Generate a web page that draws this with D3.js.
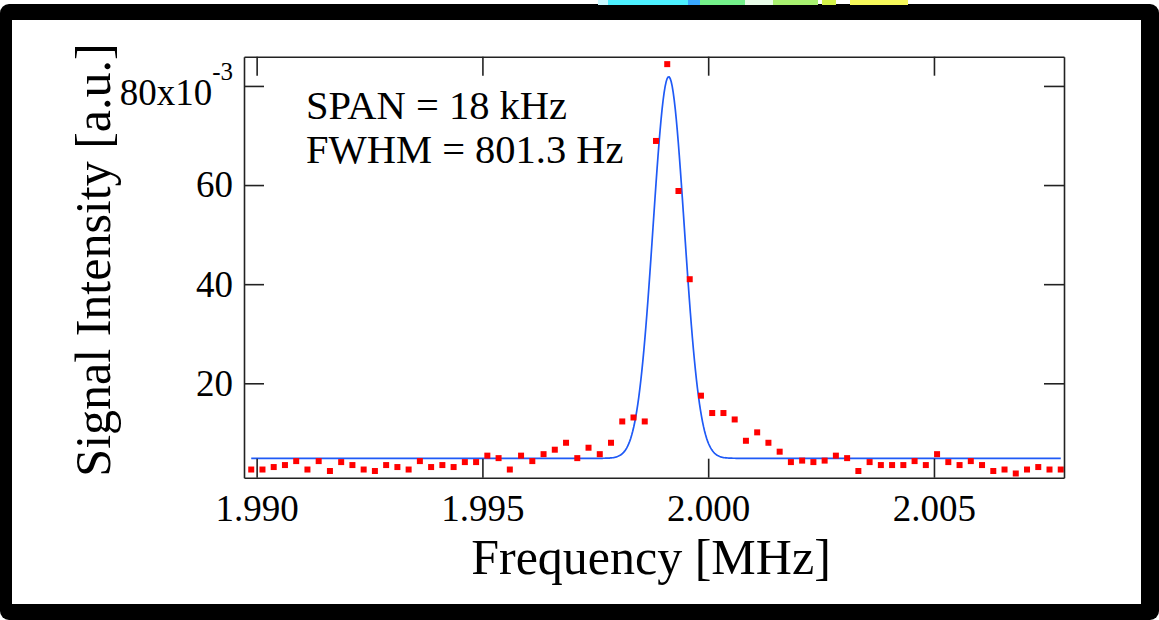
<!DOCTYPE html>
<html>
<head>
<meta charset="utf-8">
<script src="https://cdn.jsdelivr.net/npm/d3@7/dist/d3.min.js"></script>
<style>
  html, body { margin: 0; padding: 0; background: #fff; }
  svg { display: block; }
</style>
</head>
<body>
<svg id="chart"></svg>
<script>
// Data (signal intensity in units of 1e-3 a.u.)
const FREQ_START = 1.98988;   // MHz, first sweep point
const FREQ_STEP = 0.000249;   // MHz between sweep points
const intensity = [
    2.6, 2.6, 3.1, 3.5, 4.3, 2.6, 4.3, 2.3, 4.1, 3.5,
    2.6, 2.3, 3.5, 3.1, 2.6, 4.3, 3.1, 3.5, 3.1, 4.1,
    4.1, 5.4, 4.9, 2.6, 5.4, 4.3, 5.7, 6.6, 8.0, 4.9,
    7.0, 5.7, 8.0, 12.3, 13.1, 12.3, 68.9, 84.4, 58.8, 41.0,
    17.5, 14.0, 14.0, 12.7, 8.4, 10.1, 8.0, 6.2, 4.1, 4.4,
    4.1, 4.4, 5.4, 4.9, 2.3, 4.1, 3.5, 3.5, 3.5, 4.3,
    3.5, 5.7, 4.1, 3.5, 4.3, 3.5, 2.3, 2.6, 1.8, 2.6,
    3.1, 2.6, 2.6
];

// Gaussian fit parameters
const FIT_CENTER = 1.999125;  // MHz
const FIT_FWHM = 0.000815;    // MHz
const FIT_AMPLITUDE = 77.0;
const FIT_BASELINE = 4.86;

const xTicks = [1.990, 1.995, 2.000, 2.005];
const yTicks = [20, 40, 60, 80];
const annotations = ["SPAN = 18 kHz", "FWHM = 801.3 Hz"];

// Layout
const WIDTH = 1159;
const HEIGHT = 620;
const PLOT = { left: 244, right: 1064, top: 56.7, bottom: 477.7 };
const SERIF = '"Liberation Serif", "Times New Roman", Times, serif';
const AXIS_COLOR = '#222';
const POINT_COLOR = '#ff0000';
const FIT_COLOR = '#1f5af6';
const POINT_SIZE = 6;

const svg = d3.select('#chart')
    .attr('width', WIDTH)
    .attr('height', HEIGHT);

// Window frame around the figure
svg.append('rect')
    .attr('x', 0).attr('y', 4)
    .attr('width', WIDTH).attr('height', HEIGHT - 4)
    .attr('rx', 9).attr('ry', 9)
    .style('fill', '#000');
svg.append('rect')
    .attr('x', 12).attr('y', 20)
    .attr('width', 1141 - 12).attr('height', 604 - 20)
    .style('fill', '#fff');

// bits of the desktop showing above the frame
const topBits = [
    { x: 598, w: 10, c: '#c8f8ff' }, { x: 608, w: 80, c: '#4cf0ff' },
    { x: 688, w: 12, c: '#3aa8ff' }, { x: 700, w: 45, c: '#74f08a' },
    { x: 745, w: 28, c: '#e8fce8' }, { x: 773, w: 45, c: '#a8f070' },
    { x: 822, w: 14, c: '#d4f24a' }, { x: 850, w: 58, c: '#f6f85a' }
];
svg.selectAll('.top-bit')
    .data(topBits)
    .enter()
    .append('rect')
    .attr('x', d => d.x).attr('y', 0)
    .attr('width', d => d.w).attr('height', 5)
    .style('fill', d => d.c);

// Scales
const xScale = d3.scaleLinear()
    .domain([1.98972, 2.00788])
    .range([PLOT.left, PLOT.right]);
const yScale = d3.scaleLinear()
    .domain([0.95, 85.9])
    .range([PLOT.bottom, PLOT.top]);

const points = intensity.map((v, i) => ({ f: FREQ_START + i * FREQ_STEP, v: v }));

// Fit curve sampled across the sweep
const sigma = FIT_FWHM / (2 * Math.sqrt(2 * Math.log(2)));
const fLast = points[points.length - 1].f;
const fitCurve = d3.range(0, 801).map(k => {
    const f = FREQ_START + (fLast - FREQ_START) * k / 800;
    const d = (f - FIT_CENTER) / sigma;
    return { f: f, v: FIT_BASELINE + FIT_AMPLITUDE * Math.exp(-0.5 * d * d) };
});

const plot = svg.append('g');

plot.append('path')
    .datum(fitCurve)
    .attr('d', d3.line().x(d => xScale(d.f)).y(d => yScale(d.v)))
    .style('fill', 'none')
    .style('stroke', FIT_COLOR)
    .style('stroke-width', 1.7);

plot.selectAll('.pt')
    .data(points)
    .enter()
    .append('rect')
    .classed('pt', true)
    .attr('x', d => xScale(d.f) - POINT_SIZE / 2)
    .attr('y', d => yScale(d.v) - POINT_SIZE / 2)
    .attr('width', POINT_SIZE)
    .attr('height', POINT_SIZE)
    .style('fill', POINT_COLOR);

// Axes, ticks pointing inward on all four sides
function styleAxis(g) {
    g.selectAll('path, line')
        .style('stroke', AXIS_COLOR)
        .style('stroke-width', 1.6);
    g.selectAll('text')
        .style('font-family', SERIF)
        .style('font-size', '37px')
        .style('fill', '#000');
}

const bottomAxis = svg.append('g')
    .attr('transform', `translate(0,${PLOT.bottom})`)
    .call(d3.axisBottom(xScale).tickValues(xTicks).tickSizeInner(-19).tickSizeOuter(0)
        .tickPadding(17).tickFormat(d3.format('.3f')));
styleAxis(bottomAxis);

svg.append('g')
    .attr('transform', `translate(0,${PLOT.top})`)
    .call(d3.axisTop(xScale).tickValues(xTicks).tickSizeInner(-19).tickSizeOuter(0).tickFormat(''))
    .call(styleAxis);

const leftAxis = svg.append('g')
    .attr('transform', `translate(${PLOT.left},0)`)
    .call(d3.axisLeft(yScale).tickValues(yTicks).tickSizeInner(-20).tickSizeOuter(0)
        .tickPadding(11).tickFormat(d => d === 80 ? '' : d));
styleAxis(leftAxis);

// top tick label carries the exponent
const topLabel = leftAxis.selectAll('.tick')
    .filter(d => d === 80)
    .select('text')
    .attr('dy', '0.51em');
topLabel.append('tspan').text('80x10');
topLabel.append('tspan')
    .attr('dy', '-25px')
    .style('font-size', '25px')
    .text('-3');

svg.append('g')
    .attr('transform', `translate(${PLOT.right},0)`)
    .call(d3.axisRight(yScale).tickValues(yTicks).tickSizeInner(-20).tickSizeOuter(0).tickFormat(''))
    .call(styleAxis);

// Annotation text
svg.selectAll('.note')
    .data(annotations)
    .enter()
    .append('text')
    .classed('note', true)
    .attr('x', 306)
    .attr('y', (d, i) => 119 + i * 43.7)
    .text(d => d)
    .style('font-family', SERIF)
    .style('font-size', '40.5px')
    .style('fill', '#000');

// Axis titles
svg.append('text')
    .attr('x', 651)
    .attr('y', 574)
    .attr('text-anchor', 'middle')
    .text('Frequency [MHz]')
    .style('font-family', SERIF)
    .style('font-size', '50px')
    .style('fill', '#000');

svg.append('text')
    .attr('transform', 'translate(110,260) rotate(-90)')
    .attr('text-anchor', 'middle')
    .text('Signal Intensity [a.u.]')
    .style('font-family', SERIF)
    .style('font-size', '50px')
    .style('fill', '#000');
</script>
</body>
</html>
